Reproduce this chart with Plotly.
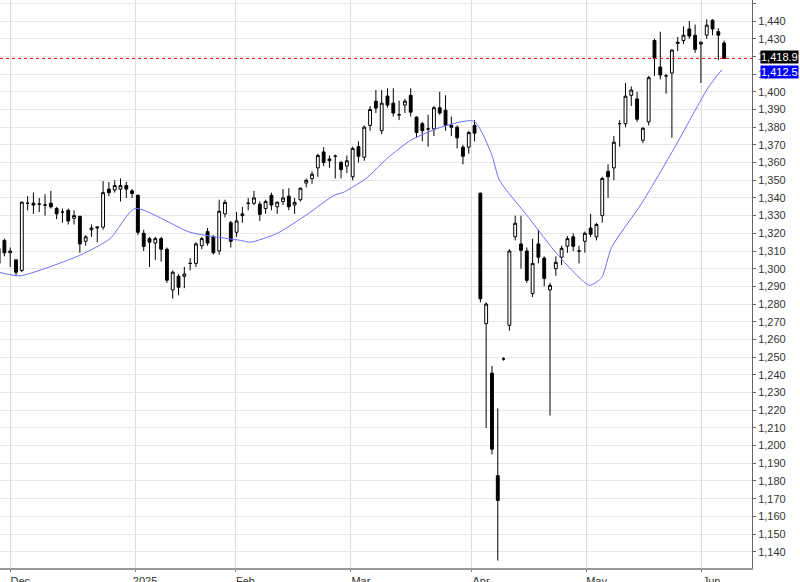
import plotly.graph_objects as go

# Daily OHLC (trading-day order, late Nov 2024 .. early Jun 2025)
opens = [1303, 1316, 1309, 1305, 1299, 1337, 1337, 1336.5, 1336, 1337, 1334, 1332, 1333, 1328.5, 1329.6, 1315.5,
         1322, 1323, 1323.5, 1345, 1344.5, 1345, 1347, 1344, 1341.5, 1320, 1317, 1314.5, 1317, 1311,
         1288, 1295.7, 1295.7, 1303, 1303, 1313, 1321, 1318, 1310, 1331, 1326, 1320.6, 1330, 1337, 1337,
         1336.5, 1334, 1341.5, 1335, 1338, 1341, 1336, 1339, 1348.4, 1351, 1357, 1366, 1362, 1363.6, 1360,
         1358, 1352, 1369, 1363, 1381, 1394.7, 1378, 1397.6, 1393.6, 1387, 1392.5, 1398, 1385.7, 1382, 1379,
         1379, 1391, 1389.6, 1381, 1380, 1368.7, 1368.7, 1381, 1342.7, 1269, 1241, 1183, 1249, 1268, 1318,
         1314, 1310, 1286, 1314, 1306, 1288, 1300, 1306.5, 1312.7, 1318, 1310, 1315.5, 1323, 1318,
         1330, 1355, 1357, 1382, 1382, 1398, 1396, 1372.6, 1383, 1429, 1414, 1409, 1410.6, 1428, 1429,
         1435.5, 1432, 1427, 1432, 1440.5, 1434, 1427.6]
highs = [1314, 1317, 1312, 1305, 1338, 1341, 1343, 1340, 1342, 1344, 1335, 1334, 1334, 1333, 1330, 1319,
         1325, 1324, 1349.5, 1349, 1350, 1351, 1349, 1345, 1342, 1322, 1318, 1318, 1318, 1312,
         1299, 1297, 1301, 1306, 1315, 1318, 1323, 1319, 1339, 1339, 1327, 1332, 1335, 1340, 1344,
         1338, 1339, 1343, 1338, 1345, 1345.5, 1340, 1346, 1351, 1355, 1365, 1368.7, 1364, 1364.5, 1361,
         1364, 1369, 1372, 1381, 1392, 1401, 1401, 1402, 1402, 1395, 1396, 1402, 1386, 1383, 1387,
         1392, 1400, 1398, 1386, 1381, 1370, 1378, 1384, 1343, 1281, 1245, 1221, 1250, 1311, 1330,
         1330, 1312, 1317, 1322, 1307, 1292, 1307, 1313, 1318.5, 1320, 1313, 1321, 1331, 1326,
         1352, 1359, 1375, 1384, 1405, 1403, 1400, 1380, 1409, 1430, 1434, 1410, 1424, 1431, 1437,
         1440, 1438, 1428.5, 1441, 1441, 1436, 1429]
lows = [1299, 1307, 1301, 1296, 1298, 1333, 1331, 1332, 1330, 1334, 1328, 1326, 1325, 1325, 1309, 1313,
        1318, 1315, 1322, 1341, 1343, 1338, 1340, 1340, 1319, 1310, 1301, 1305, 1304, 1292,
        1283, 1285, 1289, 1299, 1301, 1311, 1313, 1308, 1308, 1329, 1312, 1318, 1326, 1333, 1336,
        1327, 1331, 1333, 1331, 1336, 1333, 1331, 1338, 1346, 1348, 1352, 1358, 1357, 1351, 1351,
        1354, 1350, 1360, 1361, 1378, 1388, 1376, 1391, 1386, 1384, 1388, 1386, 1374, 1372, 1369,
        1375, 1387, 1378, 1375, 1368, 1359, 1365, 1372, 1281, 1210, 1195, 1135, 1248, 1265, 1316,
        1300, 1292, 1284, 1303, 1290, 1217, 1296, 1302, 1309, 1310, 1303, 1309, 1318, 1316,
        1326, 1340, 1350, 1369, 1380, 1392, 1383, 1371, 1381, 1409, 1407, 1399, 1374, 1423, 1427,
        1430, 1422, 1405, 1430, 1432, 1418, 1418.9]
closes = [1311.5, 1309, 1310, 1298, 1337.6, 1337, 1336, 1336.5, 1336, 1335, 1331, 1332, 1327, 1330, 1314, 1318,
          1323, 1323.5, 1343, 1343, 1347, 1347, 1345, 1342.5, 1320.6, 1312.6, 1315, 1317, 1311, 1293.5,
          1298, 1289.5, 1297, 1303, 1314, 1317, 1314.5, 1309, 1332.5, 1337.5, 1315.5, 1327, 1331, 1337, 1340,
          1330.7, 1338, 1336, 1337.6, 1340, 1335, 1337.5, 1345.5, 1350, 1353.4, 1364, 1360, 1361, 1363.6, 1356,
          1361, 1368, 1363.6, 1380, 1390, 1390.8, 1393.6, 1392.5, 1388, 1387, 1394.7, 1388.5, 1377, 1378, 1379,
          1391, 1388, 1381, 1380, 1374, 1363.6, 1377, 1376.6, 1283, 1280, 1198, 1169, 1249, 1310, 1325.7,
          1310.4, 1293.4, 1303, 1306.5, 1294.5, 1290.6, 1303.6, 1311.5, 1317, 1312.7, 1310, 1320, 1319.5, 1325,
          1351, 1352, 1371.5, 1382, 1397.5, 1401, 1384.5, 1379.4, 1408, 1419, 1409.5, 1409, 1423.6, 1427.5, 1432,
          1431.5, 1424, 1428, 1437.7, 1435.5, 1432, 1418.9]
days = list(range(len(opens)))

# Moving average line, read at sample days
ma_days = [0, 3.7, 14, 19.2, 23.5, 33, 41.7, 43.4, 48, 53.3, 57.8, 59.3, 63.3, 67, 71, 76.2, 81.9, 84.9, 86.3,
           91.3, 96.4, 101.8, 103.9, 105.6, 110.8, 116.5, 122.3, 124.6]
ma_vals = [1298, 1296, 1307.6, 1317, 1334, 1320.6, 1316, 1315, 1320, 1331, 1341.5, 1343, 1351, 1362.5, 1372.6,
           1380, 1383.4, 1365, 1350, 1329, 1307.6, 1290.6, 1295, 1312, 1337, 1368.7, 1402.6, 1412.5]

month_pos = [2.0, 23.5, 40.8, 60.7, 81.4, 101.3, 121.1]
month_labels = ['Dec', '2025', 'Feb', 'Mar', 'Apr', 'May', 'Jun']

last_close = 1418.9
last_ma = 1412.5

fig = go.Figure()
fig.add_trace(go.Scatter(x=ma_days, y=ma_vals, mode='lines',
                         line=dict(color='rgb(110,110,255)', width=1, shape='spline', smoothing=0.6),
                         hoverinfo='skip'))
fig.add_trace(go.Candlestick(x=days, open=opens, high=highs, low=lows, close=closes,
                             increasing=dict(fillcolor='white', line=dict(color='black', width=1)),
                             decreasing=dict(fillcolor='black', line=dict(color='black', width=1)),
                             whiskerwidth=0))

fig.add_hline(y=last_close, line=dict(color='red', width=1, dash='dot'))

fig.add_annotation(xref='paper', x=1.0, xanchor='left', xshift=8, y=last_close, yref='y', yanchor='bottom',
                   yshift=-6, text='1,418.9', showarrow=False, bgcolor='black',
                   font=dict(color='white', size=11, family='Liberation Sans'), borderpad=0)
fig.add_annotation(xref='paper', x=1.0, xanchor='left', xshift=8, y=last_close, yref='y', yanchor='top',
                   yshift=-7, text='1,412.5', showarrow=False, bgcolor='blue',
                   font=dict(color='white', size=11, family='Liberation Sans'), borderpad=0)

fig.update_layout(width=800, height=582, showlegend=False,
                  margin=dict(l=0, r=48, t=0, b=14),
                  paper_bgcolor='white', plot_bgcolor='white',
                  font=dict(family='Liberation Sans', size=11, color='#333'),
                  xaxis_rangeslider_visible=False)
fig.update_xaxes(range=[0.24, 129.8], tickvals=month_pos, ticktext=month_labels,
                 showgrid=True, gridcolor='#dddddd', ticks='outside', ticklen=2, tickcolor='#888',
                 ticklabelshift=10, ticklabelstandoff=0, automargin=False,
                 showline=True, linecolor='#999', linewidth=2, zeroline=False)
fig.update_yaxes(side='right', range=[1130.8, 1451.9], dtick=10, tickformat=',',
                 showgrid=True, gridcolor='#e6e6e6', showline=True, linecolor='#666', linewidth=1,
                 ticks='outside', ticklen=3, tickcolor='#666', zeroline=False, automargin=False)

fig.write_html('out.html', config={'displayModeBar': False},
               post_script="document.body.style.margin='0';document.body.style.overflow='hidden';")
